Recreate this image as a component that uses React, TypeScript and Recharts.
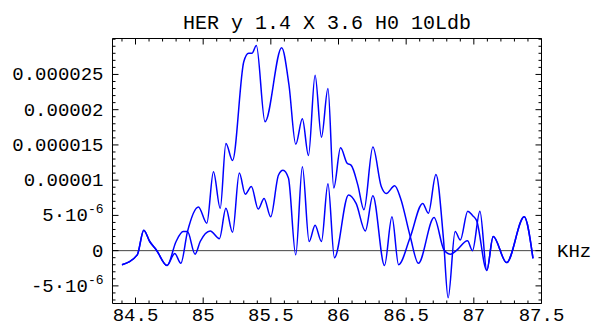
import { Label, Line, LineChart, ReferenceLine, XAxis, YAxis } from 'recharts';

// HER response, values in units of 1e-6
const freqA = [
  84.4, 84.513, 84.561, 84.605, 84.654, 84.733, 84.79, 84.835, 84.884, 84.965,
  85.027, 85.076, 85.126, 85.168, 85.217, 85.3, 85.336, 85.36, 85.393, 85.457,
  85.58, 85.634, 85.684, 85.733, 85.778, 85.827, 85.874, 85.922, 85.965, 86.015,
  86.064, 86.094, 86.143, 86.188, 86.254, 86.316, 86.353, 86.415, 86.459, 86.53,
  86.59, 86.706, 86.78, 86.83, 86.87, 86.953, 86.99, 87.045, 87.096, 87.143,
  87.242, 87.372, 87.437,
];
const herA = [
  -2.0, -0.6, 2.9, 1.3, 0.1, -2.1, -0.4, -1.8, 2.7, 6.2,
  3.9, 11.2, 6.0, 15.2, 12.8, 26.8, 28.0, 28.0, 29.1, 18.3,
  28.8, 23.5, 15.1, 18.7, 13.5, 24.9, 16.1, 23.0, 8.9, 14.6,
  12.4, 12.1, 9.3, 5.8, 14.7, 9.1, 8.1, 9.2, 7.4, 2.0,
  -1.8, 4.7, 0.1, -0.5, 0.0, 1.4, 0.0, 5.6, -2.8, 2.0,
  -1.7, 4.8, -1.1,
];

const freqB = [
  84.4, 84.513, 84.561, 84.605, 84.654, 84.733, 84.8, 84.852, 84.884, 84.94,
  84.978, 85.052, 85.12, 85.168, 85.217, 85.267, 85.311, 85.356, 85.407, 85.45,
  85.499, 85.556, 85.59, 85.63, 85.684, 85.733, 85.783, 85.827, 85.874, 85.922,
  85.97, 86.074, 86.13, 86.198, 86.254, 86.34, 86.395, 86.444, 86.528, 86.622,
  86.664, 86.72, 86.775, 86.81, 86.862, 86.9, 86.955, 86.99, 87.02, 87.096,
  87.143, 87.242, 87.372, 87.437,
];
const herB = [
  -2.0, -0.6, 2.9, 1.3, 0.1, -2.1, 1.3, 2.7, 2.7, -0.5,
  1.3, 2.8, 1.7, 6.0, 2.6, 11.0, 8.0, 9.1, 5.9, 7.4,
  4.8, 10.7, 11.4, 10.3, -0.6, 11.9, 1.3, 3.6, 1.3, 9.5,
  -1.0, 7.9, 6.7, 2.8, 7.8, -2.1, 4.8, -2.0, 1.8, 6.7,
  5.3, 10.8, 1.8, -6.7, 2.7, 1.5, 5.6, 5.0, 4.3, -2.8,
  2.0, -1.7, 4.8, -1.1,
];

const xMajor = [84.5, 85, 85.5, 86, 86.5, 87, 87.5];
const xLabels = ['84.5', '85', '85.5', '86', '86.5', '87', '87.5'];
const yMajor = [-5, 0, 5, 10, 15, 20, 25];
const yLabels = ['-5·10^-6', '0', '5·10^-6', '0.00001', '0.000015', '0.00002', '0.000025'];

const title = 'HER y 1.4 X 3.6 H0 10Ldb';
const unit = 'KHz';

const seriesA = freqA.map((x, i) => ({ x, v: herA[i] }));
const seriesB = freqB.map((x, i) => ({ x, v: herB[i] }));

const xTicks: number[] = [];
for (let i = 844; i <= 875; i++) xTicks.push(i / 10);
const yTicks: number[] = [];
for (let i = -7; i <= 30; i++) yTicks.push(i);

const FONT = '"Liberation Mono", "DejaVu Sans Mono", monospace';
const INK = '#000';

const findMajor = (list: number[], v: number) =>
  list.findIndex((m) => Math.abs(m - v) < 1e-6);

function TickText({ x, y, text }: { x: number; y: number; text: string }) {
  const [base, exp] = text.split('^');
  return (
    <text x={x} y={y} textAnchor="end" fontFamily={FONT} fontSize={19} fill={INK}>
      <tspan>{base}</tspan>
      {exp && (
        <tspan dy={-8} fontSize={13}>
          {exp}
        </tspan>
      )}
    </text>
  );
}

function XTick(props: any) {
  const { x, y, payload, side } = props;
  const idx = findMajor(xMajor, payload.value);
  const len = idx >= 0 ? 6 : 3;
  const dir = side === 'bottom' ? -1 : 1;
  return (
    <g>
      <line x1={x} x2={x} y1={y} y2={y + dir * len} stroke={INK} />
      {side === 'bottom' && idx >= 0 && (
        <text x={x} y={y + 17} textAnchor="middle" fontFamily={FONT} fontSize={19} fill={INK}>
          {xLabels[idx]}
        </text>
      )}
    </g>
  );
}

function YTick(props: any) {
  const { x, y, payload, side } = props;
  const idx = findMajor(yMajor, payload.value);
  const len = idx >= 0 ? 6 : 3;
  const dir = side === 'left' ? 1 : -1;
  return (
    <g>
      <line x1={x} x2={x + dir * len} y1={y} y2={y} stroke={INK} />
      {side === 'left' && idx >= 0 && <TickText x={x - 9} y={y + 6} text={yLabels[idx]} />}
    </g>
  );
}

export default function App() {
  return (
    <div style={{ position: 'absolute', left: 0, top: 0 }}>
      <LineChart width={592} height={325} margin={{ top: 37.5, right: 49.5, bottom: 0, left: 12.5 }}>
        <XAxis
          dataKey="x"
          type="number"
          domain={[84.33, 87.5]}
          ticks={xTicks}
          interval={0}
          allowDataOverflow
          height={21.5}
          tickSize={0}
          tickMargin={0}
          stroke={INK}
          tick={<XTick side="bottom" />}
        />
        <XAxis
          xAxisId="top"
          dataKey="x"
          orientation="top"
          type="number"
          domain={[84.33, 87.5]}
          ticks={xTicks}
          interval={0}
          allowDataOverflow
          height={1}
          tickSize={0}
          tickMargin={0}
          stroke={INK}
          tick={<XTick side="top" />}
        >
          <Label value={title} position="top" offset={9} fontFamily={FONT} fontSize={20} fill={INK} />
        </XAxis>
        <YAxis
          type="number"
          domain={[-7.5, 30.1]}
          ticks={yTicks}
          interval={0}
          allowDataOverflow
          width={100}
          tickSize={0}
          tickMargin={0}
          stroke={INK}
          tick={<YTick side="left" />}
        />
        <YAxis
          yAxisId="right"
          orientation="right"
          type="number"
          domain={[-7.5, 30.1]}
          ticks={yTicks}
          interval={0}
          allowDataOverflow
          width={1}
          tickSize={0}
          tickMargin={0}
          stroke={INK}
          tick={<YTick side="right" />}
        />
        <ReferenceLine
          y={0}
          stroke="#444"
          label={{ value: unit, position: 'right', offset: 15.5, fontFamily: FONT, fontSize: 19, fill: INK }}
        />
        <Line
          data={seriesA}
          dataKey="v"
          type="monotone"
          stroke="#0000ff"
          strokeWidth={1.5}
          dot={false}
          isAnimationActive={false}
        />
        <Line
          data={seriesB}
          dataKey="v"
          type="monotone"
          stroke="#0000ff"
          strokeWidth={1.5}
          dot={false}
          isAnimationActive={false}
        />
      </LineChart>
    </div>
  );
}
